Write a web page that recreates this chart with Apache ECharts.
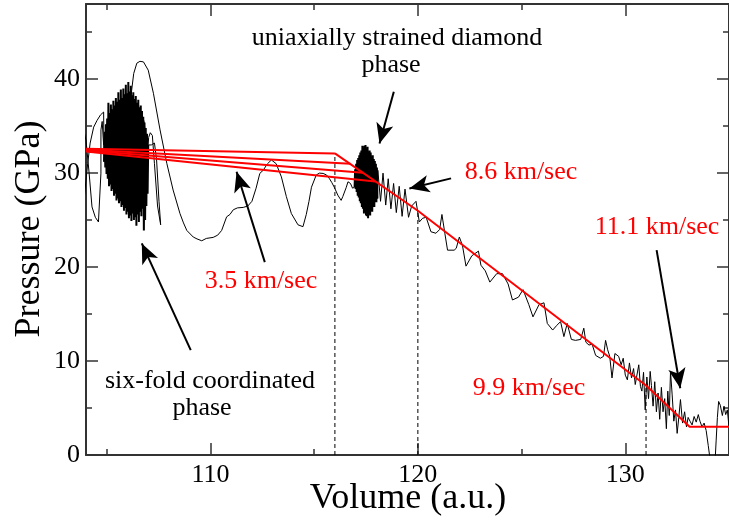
<!DOCTYPE html>
<html>
<head>
<meta charset="utf-8">
<script src="https://cdn.jsdelivr.net/npm/echarts@6/dist/echarts.min.js"></script>
<style>
html,body{margin:0;padding:0;background:#fff;}
#chart{width:729px;height:522px;}
</style>
</head>
<body>
<div id="chart"></div>
<script>
// ---------- data ----------
const xTicks = [110, 120, 130];
const xMinor = [105, 115, 125];
const yTicks = [0, 10, 20, 30, 40];
const yMinor = [5, 15, 25, 35, 45];

// black trajectory, read right to left
const traceRight = [[135.0,3.0],[134.92,4.8],[134.84,4.3],[134.76,5.2],[134.68,4.2],[134.58,5.3],[134.5,5.7],[134.44,4.0],[134.38,1.5],[134.32,-1],[134.12,-1],[134.0,1.0],[133.9,2.6],[133.8,3.4],[133.7,3.0],[133.6,3.6],[133.52,4.3],[133.42,3.5],[133.32,4.1],[133.22,3.2],[133.12,3.6],[133.03,4.0],[132.95,3.0],[132.86,4.6],[132.76,3.4],[132.66,5.9],[132.58,4.0],[132.5,2.3],[132.42,4.8],[132.34,3.6],[132.26,6.4],[132.18,8.9],[132.12,4.2],[132.05,6.8],[131.98,2.8],[131.9,6.0],[131.82,4.6],[131.74,7.2],[131.66,3.8],[131.58,6.6],[131.5,4.6],[131.42,7.8],[131.34,5.2],[131.26,7.4],[131.2,8.9],[131.12,6.0],[131.04,8.3],[130.96,4.8],[130.88,8.8],[130.8,6.8],[130.73,7.3],[130.65,9.6],[130.57,9.8],[130.48,7.5],[130.4,9.2],[130.3,8.2],[130.2,9.8],[130.1,8.0],[130.0,8.5],[129.9,10.3],[129.8,9.6],[129.68,10.5],[129.5,10.8],[129.36,8.2],[129.25,10.5],[129.15,11.2],[129.05,12.2],[128.95,10.5],[128.8,10.3],[128.57,10.6],[128.4,11.8],[128.25,11.7],[128.1,12.0],[128.0,13.5],[127.85,12.3],[127.6,12.2],[127.4,12.3],[127.2,14.0],[127.04,12.6],[126.88,14.2]];
const traceSlope = [[126.7,13.8],[126.5,13.3],[126.24,14.0],[126.08,16.2],[125.84,16.0],[125.55,14.7],[125.35,16.0],[125.07,17.6],[124.85,16.8],[124.56,16.5],[124.35,18.2],[124.08,19.3],[123.8,19.3],[123.47,18.4],[123.25,19.6],[123.04,20.2],[122.92,21.7],[122.6,21.2],[122.32,20.1],[122.15,22.3],[122.0,23.2],[121.85,22.0],[121.75,21.8],[121.43,21.8],[121.3,23.6],[121.16,25.6],[121.05,24.0],[120.87,23.6],[120.63,23.76],[120.4,25.3],[120.23,25.2],[120.07,24.8]];
const traceZig = [[119.91,27.0],[119.7,26.5],[119.55,25.3],[119.38,28.3],[119.24,25.4],[119.1,28.6],[118.96,25.8],[118.83,28.9],[118.7,26.2],[118.57,29.4],[118.45,26.6],[118.32,30.0],[118.2,27.0],[118.07,30.3],[118.05,27.3]];
const blobMid = [[118.05,27.3],[118.025,30.6],[118.0,26.9],[117.975,31.0],[117.95,27.1],[117.925,31.3],[117.9,26.4],[117.875,31.5],[117.85,26.5],[117.825,31.9],[117.8,25.9],[117.775,31.7],[117.75,26.1],[117.725,32.2],[117.7,25.5],[117.675,32.4],[117.65,25.7],[117.625,32.2],[117.6,25.2],[117.575,32.8],[117.55,25.4],[117.525,32.6],[117.5,25.5],[117.475,33.0],[117.45,25.9],[117.425,32.9],[117.4,25.7],[117.375,32.7],[117.35,26.2],[117.325,32.9],[117.3,26.4],[117.275,32.4],[117.25,26.8],[117.225,32.2],[117.2,27.0],[117.175,31.9],[117.15,27.4],[117.125,31.6],[117.1,27.6],[117.075,31.4],[117.05,28.0],[117.025,31.0],[117.0,28.3],[116.975,30.4],[116.95,28.5]];
const traceWave = [[116.95,28.5],[116.85,28.4],[116.75,28.9],[116.63,29.08],[116.55,28.5],[116.46,28.5],[116.38,27.5],[116.3,27.1],[116.14,27.66],[115.97,28.5],[115.85,29.0],[115.74,29.4],[115.6,29.8],[115.43,29.97],[115.25,30.0],[115.1,29.8],[114.87,28.5],[114.75,27.0],[114.62,25.6],[114.46,24.3],[114.22,24.5],[113.9,25.7],[113.66,27.5],[113.42,29.6],[113.17,31.0],[112.94,31.4],[112.75,31.0],[112.54,30.3],[112.38,29.97],[112.2,28.4],[112.0,27.0],[111.8,26.5],[111.58,26.35],[111.3,26.3],[111.1,26.1],[110.94,25.6],[110.78,25.35],[110.54,23.9],[110.35,23.4],[110.13,23.16],[109.8,23.05],[109.58,22.8],[109.35,23.0],[109.17,23.2],[108.86,23.9],[108.7,24.7],[108.53,25.7],[108.2,28.2],[107.9,31.0],[107.57,34.6],[107.25,38.5],[107.0,40.96],[106.77,41.84],[106.6,41.9],[106.45,41.7],[106.3,40.6],[106.2,38.8],[106.15,37.0],[106.6,36.8],[106.8,35.5],[106.88,33.9],[106.95,31.5],[107.02,33.8],[107.1,34.3],[107.2,34.0],[107.3,31.0],[107.45,26.5],[107.6,24.5],[107.52,27.0],[107.4,31.5],[107.3,33.2],[107.15,33.0],[107.0,33.0]];
const blobLeft = [[107.0,33.0],[106.97,27.8],[106.94,34.2],[106.91,26.5],[106.88,34.8],[106.85,25.0],[106.82,35.4],[106.79,23.9],[106.76,36.0],[106.73,26.2],[106.7,36.6],[106.67,25.4],[106.64,37.2],[106.61,25.9],[106.58,37.0],[106.55,24.8],[106.52,37.8],[106.49,25.6],[106.46,37.5],[106.43,24.4],[106.4,38.2],[106.37,25.3],[106.34,37.9],[106.31,25.0],[106.28,38.6],[106.25,25.7],[106.22,38.3],[106.19,24.9],[106.16,39.3],[106.13,25.5],[106.1,38.7],[106.07,25.2],[106.04,39.7],[106.01,25.9],[105.98,38.5],[105.95,25.6],[105.92,39.4],[105.89,26.3],[105.86,38.4],[105.83,26.0],[105.8,39.0],[105.77,26.6],[105.74,38.0],[105.71,26.4],[105.68,38.9],[105.65,27.0],[105.62,37.8],[105.59,26.8],[105.56,38.6],[105.53,27.3],[105.5,37.6],[105.47,27.1],[105.44,38.0],[105.41,27.8],[105.38,37.2],[105.35,27.6],[105.32,37.7],[105.29,28.3],[105.26,36.8],[105.23,28.1],[105.2,37.3],[105.17,28.8],[105.14,36.4],[105.11,28.6],[105.08,37.5],[105.05,29.4],[105.02,35.8],[104.99,29.9],[104.96,35.2],[104.93,30.6],[104.9,34.4],[104.87,31.2]];
const traceEdge = [[104.87,31.2],[104.85,36.5],[104.7,36.2],[104.53,35.6],[104.37,34.9],[104.2,33.2],[104.08,31.0],[103.9,27.0],[103.9,34.5],[104.0,33.5],[104.15,30.0],[104.29,26.4],[104.45,25.3],[104.6,24.8],[104.69,24.9],[104.72,30.0],[104.72,34.6],[104.78,35.5],[104.85,33.0]];

// red lines (shock velocities)
const redMain = [[116.0,32.1],[120.0,26.0],[131.0,7.4],[133.1,3.0],[135.0,3.0]];
const redFan1 = [[104.0,32.6],[116.0,32.1]];
const redFan2 = [[104.0,32.5],[116.75,31.0]];
const redFan3 = [[104.0,32.4],[117.35,30.05]];
const redFan4 = [[104.0,32.3],[117.95,29.1]];

// dashed guides
const dash116 = [[116,0],[116,32.1]];
const dash120 = [[120,0],[120,26.0]];
const dash131 = [[131,0],[131,7.4]];

// annotation arrows [from, to] in data units
const arrows = [
  [[118.84,38.65],[118.15,33.16]],
  [[121.6,29.44],[119.59,28.37]],
  [[112.62,20.53],[111.26,30.14]],
  [[109.05,11.17],[106.69,22.52]],
  [[131.51,21.8],[132.65,7.1]]
];

// ---------- chart ----------
const FONT = '"Liberation Serif", "Times New Roman", serif';
const AX = '#333';
const chart = echarts.init(document.getElementById('chart'), null, {renderer:'canvas'});

function xAx(pos, vals, len, labels, line){
  return {type:'value', min:104, max:135, position:pos, gridIndex:0,
    axisLine:{show:line, onZero:false, lineStyle:{color:AX,width:2}},
    axisTick:{show:true, inside:true, length:len, customValues:vals, lineStyle:{color:AX,width:1.5}},
    axisLabel:{show:labels, customValues:vals, fontFamily:FONT, fontSize:26, color:'#000', margin:7},
    splitLine:{show:false}};
}
function yAx(pos, vals, len, labels, line){
  return {type:'value', min:0, max:48, position:pos, gridIndex:0,
    axisLine:{show:line, onZero:false, lineStyle:{color:AX,width:2}},
    axisTick:{show:true, inside:true, length:len, customValues:vals, lineStyle:{color:AX,width:1.5}},
    axisLabel:{show:labels, customValues:vals, fontFamily:FONT, fontSize:26, color:'#000', margin:6},
    splitLine:{show:false}};
}

const black = {color:'#000', width:1};
const blobStyle = {color:'#000', width:2};
const red = {color:'#ff0000', width:2};
const dashed = {color:'#000', width:1, type:[4,3]};
function ln(data, style, z){
  return {type:'line', data:data, xAxisIndex:0, yAxisIndex:0, showSymbol:false, symbol:'none',
    lineStyle:style, silent:true, animation:false, z:z, clip:true};
}

const option = {
  animation:false,
  grid:{left:86, right:-1.5, top:4, bottom:67, containLabel:false},
  xAxis:[xAx('bottom',xTicks,12,true,true), xAx('bottom',xMinor,6,false,false),
         xAx('top',xTicks,12,false,true), xAx('top',xMinor,6,false,false)],
  yAxis:[yAx('left',yTicks,12,true,true), yAx('left',yMinor,6,false,false),
         yAx('right',yTicks,12,false,true), yAx('right',yMinor,6,false,false)],
  series:[
    ln(dash116,dashed,1), ln(dash120,dashed,1), ln(dash131,dashed,1),
    ln([].concat(traceRight,traceSlope,traceZig), black, 2),
    ln(blobMid, blobStyle, 2),
    ln(traceWave, black, 2),
    ln(blobLeft, blobStyle, 2),
    ln(traceEdge, black, 2),
    ln(redFan1,red,3), ln(redFan2,red,3), ln(redFan3,red,3), ln(redFan4,red,3), ln(redMain,red,3),
    {type:'line', data:[], xAxisIndex:0, yAxisIndex:0, silent:true, animation:false, z:4,
     markLine:{silent:true, animation:false, symbol:['none','arrow'], symbolSize:[13,20],
       label:{show:false}, lineStyle:{color:'#000', width:2, type:'solid'},
       data: arrows.map(a => [{coord:a[0]},{coord:a[1]}])}}
  ],
  graphic:[
    {type:'text', style:{text:'uniaxially strained diamond', x:397, y:38, font:'26px '+FONT, fill:'#000', textAlign:'center', textVerticalAlign:'middle'}},
    {type:'text', style:{text:'phase', x:391, y:65, font:'26px '+FONT, fill:'#000', textAlign:'center', textVerticalAlign:'middle'}},
    {type:'text', style:{text:'8.6 km/sec', x:521, y:172, font:'26px '+FONT, fill:'#ff0000', textAlign:'center', textVerticalAlign:'middle'}},
    {type:'text', style:{text:'11.1 km/sec', x:657, y:227, font:'26px '+FONT, fill:'#ff0000', textAlign:'center', textVerticalAlign:'middle'}},
    {type:'text', style:{text:'3.5 km/sec', x:261, y:281, font:'26px '+FONT, fill:'#ff0000', textAlign:'center', textVerticalAlign:'middle'}},
    {type:'text', style:{text:'9.9 km/sec', x:529, y:388, font:'26px '+FONT, fill:'#ff0000', textAlign:'center', textVerticalAlign:'middle'}},
    {type:'text', style:{text:'six-fold coordinated', x:210, y:381, font:'26px '+FONT, fill:'#000', textAlign:'center', textVerticalAlign:'middle'}},
    {type:'text', style:{text:'phase', x:202, y:408, font:'26px '+FONT, fill:'#000', textAlign:'center', textVerticalAlign:'middle'}},
    {type:'text', style:{text:'Volume (a.u.)', x:408, y:499, font:'36px '+FONT, fill:'#000', textAlign:'center', textVerticalAlign:'middle'}},
    {type:'text', x:30, y:229, rotation:Math.PI/2, style:{text:'Pressure (GPa)', x:0, y:0, font:'36px '+FONT, fill:'#000', textAlign:'center', textVerticalAlign:'middle'}}
  ]
};
chart.setOption(option);
</script>
</body>
</html>
